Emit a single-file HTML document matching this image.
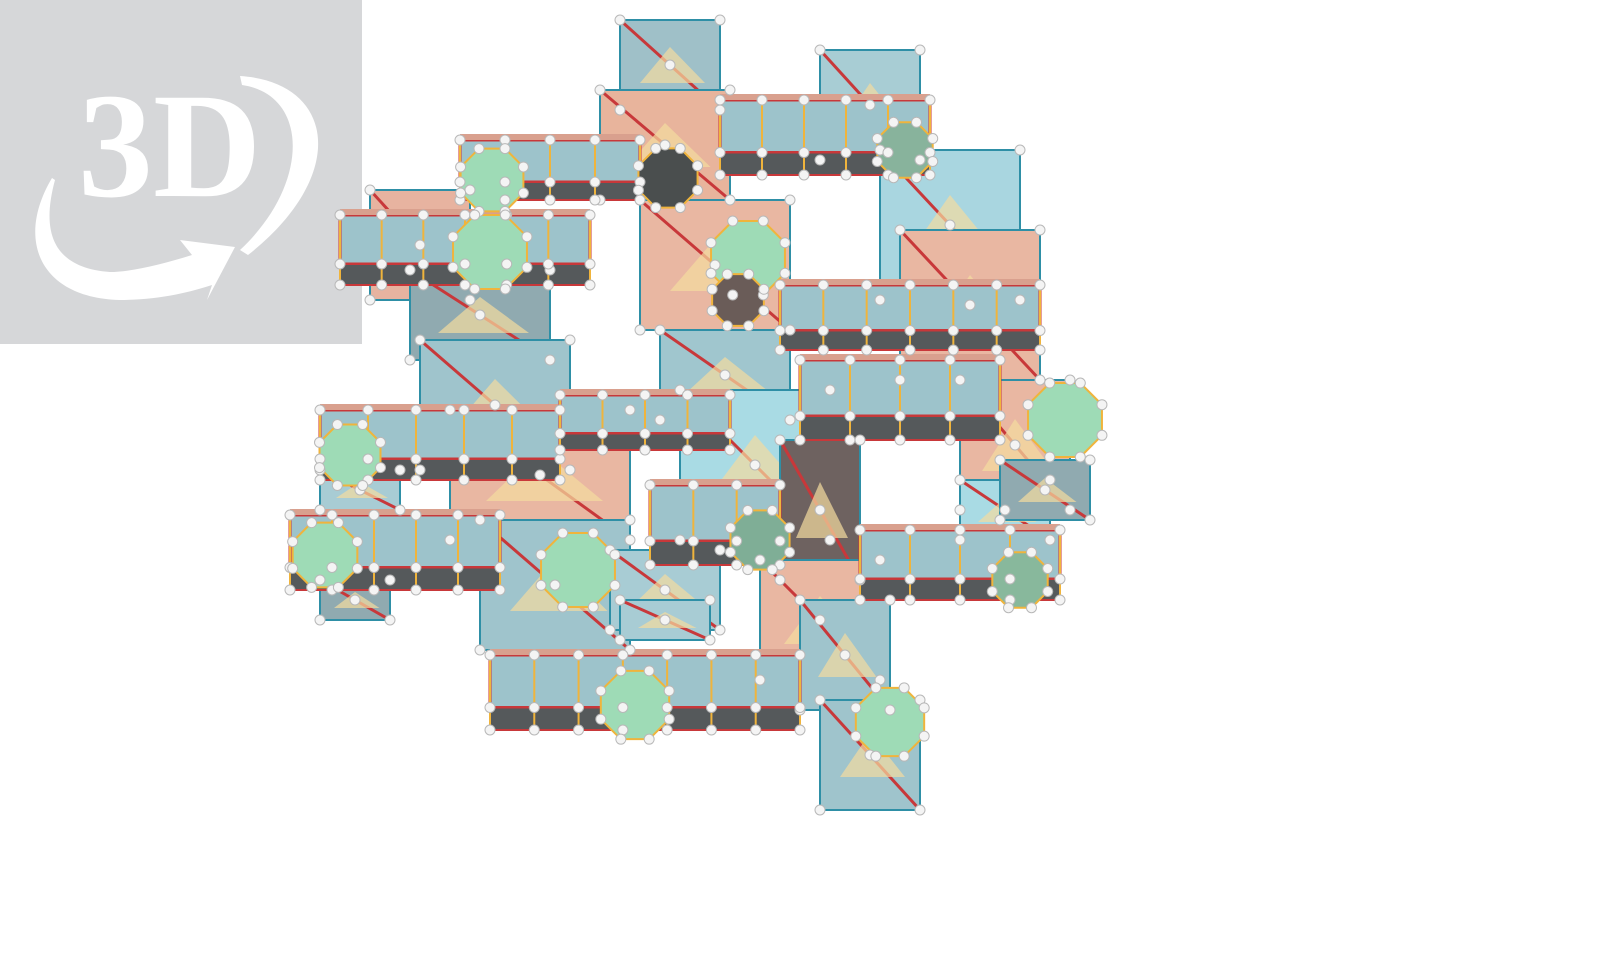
<!DOCTYPE html>
<html><head><meta charset="utf-8"><style>
html,body{margin:0;padding:0;background:#fff;width:1600px;height:957px;overflow:hidden}
svg{display:block}
</style></head><body>
<svg id="s" width="1600" height="957" viewBox="0 0 1600 957">
<g>
<rect x="0" y="0" width="362" height="344" fill="#d6d7d9"/>
<text x="78" y="196" font-family="Liberation Serif, serif" font-weight="bold" font-size="150" fill="#fff">3D</text>
<path d="M240 76 C335 82 350 175 248 255 L240 250 C310 185 310 95 242 85 Z" fill="#fff"/>
<path d="M52 178 C15 240 40 298 120 300 C160 300 190 292 212 285 L207 300 L235 247 L180 240 L192 255 C160 265 130 272 110 272 C55 268 40 235 55 180 Z" fill="#fff"/>
</g>
<g id="mol"></g>
</svg>
<script>
const ns='http://www.w3.org/2000/svg';
const mol=document.getElementById('mol');
function el(t,a){const e=document.createElementNS(ns,t);for(const k in a)e.setAttribute(k,a[k]);mol.appendChild(e);return e;}
const dots=[];
const blocks=[
[620,20,100,90,0,'#9fc0c8'],[600,90,130,110,0,'#e8b49c'],[820,50,100,110,0,'#a8cdd4'],
[370,190,100,110,0,'#e7b3a0'],[410,270,140,90,0,'#90aab0'],[640,200,150,130,0,'#e9b7a2'],
[880,150,140,150,0,'#a9d6e0'],[900,230,140,150,0,'#e9b7a2'],[420,340,150,130,0,'#9fc4cc'],
[660,330,130,90,0,'#a0c6ce'],[450,410,180,130,0,'#e9b7a2'],[680,390,150,150,0,'#a9dbe4'],
[780,440,80,140,0,'#6e6260'],[960,380,110,130,0,'#e9b7a2'],[480,520,150,130,0,'#9fc4cc'],
[610,550,110,80,0,'#a8ccd4'],[760,560,120,120,0,'#e9b7a2'],[800,600,90,110,0,'#9fc4cc'],
[960,480,90,60,0,'#a9dbe4'],[820,700,100,110,0,'#9fc4cc'],[1000,460,90,60,0,'#90aab0'],
[320,470,80,40,0,'#a8ccd4'],[320,580,70,40,0,'#90aab0'],[620,600,90,40,0,'#a8ccd4']
];
blocks.forEach(b=>{
  const r=el('rect',{x:b[0],y:b[1],width:b[2],height:b[3],fill:b[5],stroke:'#2e8fa6','stroke-width':2});
  
  
  el('line',{x1:b[0],y1:b[1],x2:b[0]+b[2],y2:b[1]+b[3],stroke:'#c8383a','stroke-width':3});
  el('polygon',{points:`${b[0]+b[2]/2},${b[1]+b[3]*0.3} ${b[0]+b[2]*0.85},${b[1]+b[3]*0.7} ${b[0]+b[2]*0.2},${b[1]+b[3]*0.7}`,fill:'#f4dba0',opacity:0.7});
  dots.push([b[0],b[1]],[b[0]+b[2],b[1]],[b[0],b[1]+b[3]],[b[0]+b[2],b[1]+b[3]],[b[0]+b[2]/2,b[1]+b[3]/2]);
});
const tubes=[
[460,140,180,60],[720,100,210,75],[340,215,250,70],[780,285,260,65],
[800,360,200,80],[320,410,240,70],[560,395,170,55],[290,515,210,75],
[860,530,200,70],[490,655,310,75],[650,485,130,80]
];
tubes.forEach(t=>{
  const [x,y,w,h]=t;
  const g=el('rect',{x:x,y:y,width:w,height:h*0.7,fill:'#9dc3cb',stroke:'#c8383a','stroke-width':3});
  
  
  el('rect',{x:x,y:y+h*0.7,width:w,height:h*0.3,fill:'#55595b',stroke:'#c8383a','stroke-width':2});
  el('rect',{x:x,y:y-6,width:w,height:6,fill:'#d9a08e'});
  const n=Math.round(w/45);
  for(let i=0;i<=n;i++){const xx=x+i*w/n;
    el('line',{x1:xx,y1:y,x2:xx,y2:y+h,stroke:'#f0b43c','stroke-width':2});
    dots.push([xx,y],[xx,y+h*0.7],[xx,y+h]);}
});
const hexes=[
[492,180,34,'#9edbb6'],[490,252,40,'#9edbb6'],[748,258,40,'#9edbb6'],[350,455,33,'#9edbb6'],
[325,555,35,'#9edbb6'],[578,570,40,'#9edbb6'],[1065,420,40,'#9edbb6'],[635,705,37,'#9edbb6'],
[890,722,37,'#9edbb6'],[1020,580,30,'#88b89c'],[905,150,30,'#88b39c'],[760,540,32,'#7fae96'],
[668,178,32,'#4a4e4e'],[738,300,28,'#6a5c58']
];
hexes.forEach(h=>{
  let p=[];for(let i=0;i<8;i++){const a=Math.PI/8+i*Math.PI/4;p.push([h[0]+h[2]*Math.cos(a),h[1]+h[2]*Math.sin(a)]);}
  const e=el('polygon',{points:p.map(q=>q.join(',')).join(' '),fill:h[3],stroke:'#f0b43c','stroke-width':2});
  
  
  p.forEach(q=>dots.push(q));
});
dots.forEach(d=>{
  el('circle',{cx:d[0],cy:d[1],r:5,fill:'#f4f4f4',stroke:'#b8b8b8','stroke-width':1});
});
</script>
</body></html>
